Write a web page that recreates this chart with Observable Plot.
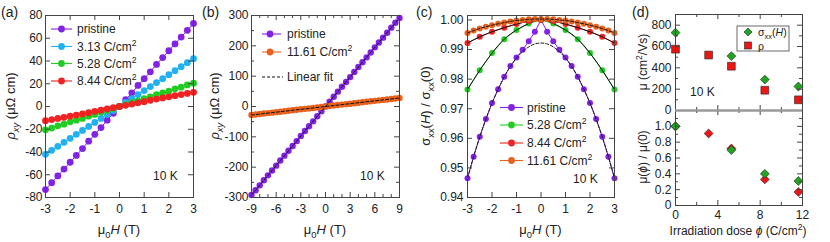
<!DOCTYPE html>
<html><head><meta charset="utf-8">
<script src="https://cdn.jsdelivr.net/npm/d3@7"></script>
<script src="https://cdn.jsdelivr.net/npm/@observablehq/plot@0.6"></script>
<style>
html,body{margin:0;padding:0;background:#fff;}
#fig{position:relative;width:830px;height:242px;overflow:hidden;}
#fig svg{position:absolute;left:0;top:0;}
</style></head><body><div id="fig"></div>
<script>
// ---------------- DATA ----------------
// Panel (a): Hall resistivity vs field
const fieldA = [-3,-2.75,-2.5,-2.25,-2,-1.75,-1.5,-1.25,-1,-0.75,-0.5,-0.25,0,0.25,0.5,0.75,1,1.25,1.5,1.75,2,2.25,2.5,2.75,3];
const rhoPristineA = [-73,-67,-61,-55,-49,-43,-37,-30.5,-24.5,-18.5,-12,-6,0,6,12,18.5,24.5,30.5,37,43,49,55,61,67,73];
const rho313A = [-42,-38.5,-35,-31.5,-28,-24.5,-21,-17.5,-14,-10.5,-7,-3.5,0,3.5,7,10.5,14,17.5,21,24.5,28,31.5,35,38.5,42];
const rho528A = [-20.5,-19,-17,-15.5,-13.5,-12,-10.5,-8.5,-7,-5,-3.5,-1.7,0,1.7,3.5,5,7,8.5,10.5,12,13.5,15.5,17,19,20.5];
const rho844A = [-12.5,-11.5,-10.5,-9.5,-8.5,-7.5,-6.5,-5.5,-4.2,-3.2,-2.1,-1,0,1,2.1,3.2,4.2,5.5,6.5,7.5,8.5,9.5,10.5,11.5,12.5];
const xTicksA = [-3,-2,-1,0,1,2,3];
const yTicksA = [-80,-60,-40,-20,0,20,40,60,80];

// Panel (b): Hall resistivity up to 9 T
const fieldB = [-9,-8.5,-8,-7.5,-7,-6.5,-6,-5.5,-5,-4.5,-4,-3.5,-3,-2.5,-2,-1.5,-1,-0.5,0,0.5,1,1.5,2,2.5,3,3.5,4,4.5,5,5.5,6,6.5,7,7.5,8,8.5,9];
const rhoPristineB = [-292,-276,-260,-243,-227,-211,-195,-178,-162,-146,-130,-114,-97,-81,-65,-49,-32,-16,0,16,32,49,65,81,97,114,130,146,162,178,195,211,227,243,260,276,292];
const rho1161B = [-28,-26.4,-24.8,-23.3,-21.7,-20.2,-18.6,-17.1,-15.5,-14,-12.4,-10.9,-9.3,-7.8,-6.2,-4.7,-3.1,-1.6,0,1.6,3.1,4.7,6.2,7.8,9.3,10.9,12.4,14,15.5,17.1,18.6,20.2,21.7,23.3,24.8,26.4,28];
const fitFieldB = [-9, 9];
const fitPristineB = [-292, 292];
const fit1161B = [-28, 28];
const xTicksB = [-9,-6,-3,0,3,6,9];
const xMinorB = [-8,-7,-5,-4,-2,-1,1,2,4,5,7,8];
const yTicksB = [-300,-200,-100,0,100,200,300];
const yMinorB = [-250,-150,-50,50,150,250];

// Panel (c): normalized conductivity
const fieldC = [-3,-2.75,-2.5,-2.25,-2,-1.75,-1.5,-1.25,-1,-0.75,-0.5,-0.25,0,0.25,0.5,0.75,1,1.25,1.5,1.75,2,2.25,2.5,2.75,3];
const sigPristineC = [0.9465,0.9538,0.9605,0.9665,0.9719,0.9766,0.9808,0.9844,0.9873,0.9899,0.9928,0.9960,1.0000,0.9960,0.9928,0.9899,0.9873,0.9844,0.9808,0.9766,0.9719,0.9665,0.9605,0.9538,0.9465];
const fitPristineC = [0.9465,0.9538,0.9605,0.9665,0.9719,0.9766,0.9808,0.9843,0.9871,0.9893,0.9909,0.9919,0.9922,0.9919,0.9909,0.9893,0.9871,0.9843,0.9808,0.9766,0.9719,0.9665,0.9605,0.9538,0.9465];
const sig1161C = [0.9956,0.9964,0.9971,0.9977,0.9982,0.9987,0.9991,0.9995,0.9998,1.0000,1.0002,1.0003,1.0003,1.0003,1.0002,1.0000,0.9998,0.9995,0.9991,0.9987,0.9982,0.9977,0.9971,0.9964,0.9956];
const fieldHalfC = [-3,-2.5,-2,-1.5,-1,-0.5,0,0.5,1,1.5,2,2.5,3];
const sig528C = [0.9765,0.9830,0.9888,0.9935,0.9966,0.9988,1.0000,0.9988,0.9966,0.9935,0.9888,0.9830,0.9765];
const sig844C = [0.9922,0.9943,0.9960,0.9974,0.9986,0.9996,1.0000,0.9996,0.9986,0.9974,0.9960,0.9943,0.9922];
const xTicksC = [-3,-2,-1,0,1,2,3];
const yTicksC = [0.94,0.95,0.96,0.97,0.98,0.99,1.00];

// Panel (d): mobility vs irradiation dose
const doseSigma = [0, 5.28, 8.44, 11.61];
const muSigma = [730, 510, 290, 225];
const doseRho = [0, 3.13, 5.28, 8.44, 11.61];
const muRho = [575, 520, 415, 190, 100];
const normSigma = [1.0, 0.70, 0.40, 0.31];
const normRho = [1.0, 0.91, 0.72, 0.33, 0.17];
const xTicksD = [0,4,8,12];
const xMinorD = [2,6,10];
const yTicksDtop = [0,200,400,600,800];
const yMinorDtop = [100,300,500,700];
const yTicksDbot = [0,0.2,0.4,0.6,0.8,1.0];
const yMinorDbot = [0.1,0.3,0.5,0.7,0.9,1.1];

// ---------------- STYLE ----------------
const W = 830, H = 242;
const FONT = "'Liberation Sans', Arial, Helvetica, sans-serif";
const C = {pristine:"#8322E6", c313:"#21B1F2", c528:"#22CC22", c844:"#F02222", c1161:"#E8621E"};
const AX = "#444";

const rows = (xs, ys) => xs.map((x, i) => ({x, y: ys[i]}));

function boxTicks(frame, xMaj, xMin, yMaj, yMin, sides = "tblr") {
  const [l, r, t, b] = frame; const fw = r - l, fh = b - t;
  const M = 5, m = 3, st = {stroke: AX, strokeWidth: 1};
  const out = [];
  const X = (arr, len, side) => arr && arr.length && out.push(Plot.ruleX(arr, {x: d => d, ...(side === "b" ? {insetTop: fh - len} : {insetBottom: fh - len}), ...st}));
  const Y = (arr, len, side) => arr && arr.length && out.push(Plot.ruleY(arr, {y: d => d, ...(side === "l" ? {insetRight: fw - len} : {insetLeft: fw - len}), ...st}));
  for (const s of sides) {
    if (s === "b" || s === "t") { X(xMaj, M, s); X(xMin, m, s); }
    else { Y(yMaj, M, s); Y(yMin, m, s); }
  }
  return out;
}

function makePlot(frame, xDomain, yDomain, marks, xAxis = true) {
  const [l, r, t, b] = frame;
  const svg = Plot.plot({
    width: W, height: H,
    marginLeft: l, marginRight: W - r, marginTop: t, marginBottom: H - b,
    x: {domain: xDomain, axis: null}, y: {domain: yDomain, axis: null},
    style: {background: "transparent", fontFamily: FONT, fontSize: "12px", color: "#222", overflow: "visible"},
    marks
  });
  document.getElementById("fig").appendChild(svg);
  return svg;
}

function rich(svg, x, y, parts, {size = 12, rotate = 0, anchor = "start"} = {}) {
  const t = d3.select(svg).append("text")
    .attr("transform", `translate(${x},${y})` + (rotate ? ` rotate(${rotate})` : ""))
    .attr("text-anchor", anchor).attr("font-size", size).attr("fill", "#222").attr("font-family", FONT);
  let shift = 0;
  for (const p of parts) {
    const s = typeof p === "string" ? {t: p} : p;
    const ts = t.append("tspan").text(s.t);
    const target = s.sub ? size * 0.3 : s.sup ? -size * 0.42 : 0;
    if (target !== shift) { ts.attr("dy", target - shift); shift = target; }
    if (s.sub || s.sup) ts.attr("font-size", size * 0.72);
    if (s.i) ts.attr("font-style", "italic");
  }
  return t;
}

function legendRow(svg, {x0, x1, cx, tx, y, color, r = 3.4, dash = null, marker = true, parts, size = 12}) {
  const g = d3.select(svg);
  g.append("line").attr("x1", x0).attr("x2", x1).attr("y1", y).attr("y2", y)
    .attr("stroke", color).attr("stroke-width", 1.1).attr("stroke-dasharray", dash);
  if (marker) g.append("circle").attr("cx", cx).attr("cy", y).attr("r", r).attr("fill", color);
  rich(svg, tx, y + 4.3, parts, {size});
}

const fmt = d => String(d);
const xAxisText = (ticks, pad = 7, f = fmt) => Plot.axisX({ticks, tickSize: 0, tickPadding: pad, tickFormat: f, label: null, fontSize: 12});
const yAxisText = (ticks, pad = 3, f = fmt) => Plot.axisY({ticks, tickSize: 0, tickPadding: pad, tickFormat: f, label: null, fontSize: 12});
const muH = [{t:"μ"},{t:"0", sub:true},{t:"H", i:true},{t:" (T)"}];
const cm2 = n => [{t: n + " C/cm"}, {t:"2", sup:true}];

// ---------------- PANEL (a) ----------------
{
  const F = [45, 193, 15, 197];
  const series = [[rhoPristineA, C.pristine], [rho313A, C.c313], [rho528A, C.c528], [rho844A, C.c844]];
  const marks = [];
  for (const [ys, c] of series) {
    marks.push(Plot.line(rows(fieldA, ys), {x: "x", y: "y", stroke: c, strokeWidth: 1}));
    marks.push(Plot.dot(rows(fieldA, ys), {x: "x", y: "y", fill: c, r: 3.4}));
  }
  marks.push(Plot.frame({stroke: AX, strokeWidth: 1}));
  marks.push(...boxTicks(F, xTicksA, [], yTicksA, []));
  marks.push(xAxisText(xTicksA), yAxisText(yTicksA));
  const svg = makePlot(F, [-3, 3], [-80, 80], marks);
  rich(svg, 1, 17, ["(a)"], {size: 14});
  rich(svg, 119, 234, muH, {size: 13, anchor: "middle"});
  rich(svg, 15, 106, [{t:"ρ", i:true},{t:"xy", sub:true, i:true},{t:" (μΩ cm)"}], {size: 13, anchor: "middle", rotate: -90});
  rich(svg, 153, 180, ["10 K"]);
  const leg = [["pristine", C.pristine], ["3.13", C.c313], ["5.28", C.c528], ["8.44", C.c844]];
  const ys = [29, 46.5, 63.5, 81];
  leg.forEach(([n, c], i) => legendRow(svg, {x0: 51, x1: 72, cx: 61.5, tx: 77, y: ys[i], color: c,
    parts: n === "pristine" ? ["pristine"] : cm2(n)}));
}

// ---------------- PANEL (b) ----------------
{
  const F = [251, 399, 15, 197];
  const marks = [
    Plot.line(rows(fieldB, rhoPristineB), {x: "x", y: "y", stroke: C.pristine, strokeWidth: 1}),
    Plot.dot(rows(fieldB, rhoPristineB), {x: "x", y: "y", fill: C.pristine, r: 3.2}),
    Plot.line(rows(fieldB, rho1161B), {x: "x", y: "y", stroke: C.c1161, strokeWidth: 1}),
    Plot.dot(rows(fieldB, rho1161B), {x: "x", y: "y", fill: C.c1161, r: 3.2}),
    Plot.line(rows(fitFieldB, fitPristineB), {x: "x", y: "y", stroke: "#111", strokeWidth: 1, strokeDasharray: "3,2"}),
    Plot.line(rows(fitFieldB, fit1161B), {x: "x", y: "y", stroke: "#111", strokeWidth: 1, strokeDasharray: "3,2"}),
    Plot.frame({stroke: AX, strokeWidth: 1}),
    ...boxTicks(F, xTicksB, xMinorB, yTicksB, yMinorB),
    xAxisText(xTicksB), yAxisText(yTicksB)
  ];
  const svg = makePlot(F, [-9, 9], [-300, 300], marks);
  rich(svg, 202, 17, ["(b)"], {size: 14});
  rich(svg, 325, 234, muH, {size: 13, anchor: "middle"});
  rich(svg, 219, 106, [{t:"ρ", i:true},{t:"xy", sub:true, i:true},{t:" (μΩ cm)"}], {size: 13, anchor: "middle", rotate: -90});
  rich(svg, 360, 180, ["10 K"]);
  legendRow(svg, {x0: 262, x1: 281, cx: 270, tx: 287, y: 34, color: C.pristine, parts: ["pristine"]});
  legendRow(svg, {x0: 262, x1: 281, cx: 270, tx: 287, y: 52, color: C.c1161, parts: cm2("11.61")});
  legendRow(svg, {x0: 262, x1: 283, cx: 270, tx: 287, y: 77, color: "#111", dash: "3,2", marker: false, parts: ["Linear fit"]});
}

// ---------------- PANEL (c) ----------------
{
  const F = [467, 614, 15, 197];
  const marks = [
    Plot.line(rows(fieldC, sigPristineC), {x: "x", y: "y", stroke: C.pristine, strokeWidth: 1}),
    Plot.dot(rows(fieldC, sigPristineC), {x: "x", y: "y", fill: C.pristine, r: 3}),
    Plot.line(rows(fieldC, fitPristineC), {x: "x", y: "y", stroke: "#111", strokeWidth: 1, strokeDasharray: "3,2", curve: "natural"}),
    Plot.line(rows(fieldHalfC, sig528C), {x: "x", y: "y", stroke: C.c528, strokeWidth: 1}),
    Plot.dot(rows(fieldHalfC, sig528C), {x: "x", y: "y", fill: C.c528, r: 3}),
    Plot.line(rows(fieldHalfC, sig528C), {x: "x", y: "y", stroke: "#111", strokeWidth: 1, curve: "natural"}),
    Plot.line(rows(fieldHalfC, sig844C), {x: "x", y: "y", stroke: C.c844, strokeWidth: 1}),
    Plot.dot(rows(fieldHalfC, sig844C), {x: "x", y: "y", fill: C.c844, r: 3}),
    Plot.line(rows(fieldHalfC, sig844C), {x: "x", y: "y", stroke: "#111", strokeWidth: 1, curve: "natural"}),
    Plot.line(rows(fieldC, sig1161C), {x: "x", y: "y", stroke: C.c1161, strokeWidth: 1}),
    Plot.dot(rows(fieldC, sig1161C), {x: "x", y: "y", fill: C.c1161, r: 3}),
    Plot.line(rows(fieldC, sig1161C), {x: "x", y: "y", stroke: "#111", strokeWidth: 1, strokeDasharray: "3,2", curve: "natural"}),
    Plot.frame({stroke: AX, strokeWidth: 1}),
    ...boxTicks(F, xTicksC, [], yTicksC, []),
    xAxisText(xTicksC), yAxisText(yTicksC, 4, d3.format(".2f"))
  ];
  const svg = makePlot(F, [-3, 3], [0.94, 1.0015], marks);
  rich(svg, 416, 17, ["(c)"], {size: 14});
  rich(svg, 540.5, 234, muH, {size: 13, anchor: "middle"});
  rich(svg, 430, 106, [{t:"σ"},{t:"xx", sub:true},{t:"("},{t:"H", i:true},{t:") / σ"},{t:"xx", sub:true},{t:"(0)"}], {size: 13, anchor: "middle", rotate: -90});
  rich(svg, 573, 183, ["10 K"]);
  const leg = [["pristine", C.pristine], ["5.28", C.c528], ["8.44", C.c844], ["11.61", C.c1161]];
  const ys = [107.5, 125, 143, 160.5];
  leg.forEach(([n, c], i) => legendRow(svg, {x0: 500, x1: 523, cx: 511.5, tx: 527, y: ys[i], color: c,
    parts: n === "pristine" ? ["pristine"] : cm2(n)}));
}

// ---------------- PANEL (d) ----------------
{
  const Ft = [675, 802, 14, 110];
  const Fb = [675, 802, 110, 205];
  const dia = {symbol: "diamond2", r: 4, fill: "#1FA51F", stroke: "#222", strokeWidth: 0.6};
  const sq = {symbol: "square", r: 4.4, fill: "#EE1515", stroke: "#222", strokeWidth: 0.6};
  const top = [
    Plot.dot(rows(doseRho, muRho), {x: "x", y: "y", ...sq}),
    Plot.dot(rows(doseSigma, muSigma), {x: "x", y: "y", ...dia}),
    Plot.frame({stroke: AX, strokeWidth: 1}),
    ...boxTicks(Ft, xTicksD, xMinorD, yTicksDtop, yMinorDtop),
    yAxisText(yTicksDtop, 4),
    Plot.ruleY([0], {stroke: "#999", strokeWidth: 2})
  ];
  const svgT = makePlot(Ft, [0, 12], [0, 900], top);
  const bot = [
    Plot.dot(rows(doseRho, normRho), {x: "x", y: "y", ...dia, fill: "#EE1515"}),
    Plot.dot(rows(doseSigma, normSigma), {x: "x", y: "y", ...dia}),
    Plot.frame({stroke: AX, strokeWidth: 1}),
    ...boxTicks(Fb, xTicksD, xMinorD, yTicksDbot, yMinorDbot),
    xAxisText(xTicksD, 5), yAxisText(yTicksDbot, 4, d => d === 0 ? "0" : d.toFixed(1)),
    Plot.ruleY([1.2], {stroke: "#999", strokeWidth: 2})
  ];
  const svgB = makePlot(Fb, [0, 12], [0, 1.2], bot);
  rich(svgT, 632, 17, ["(d)"], {size: 14});
  rich(svgT, 647, 62, [{t:"μ (cm"},{t:"2", sup:true},{t:"/Vs)"}], {size: 12, anchor: "middle", rotate: -90});
  rich(svgB, 647, 157, [{t:"μ("},{t:"ϕ", i:true},{t:") / μ(0)"}], {size: 12, anchor: "middle", rotate: -90});
  rich(svgB, 738, 235, [{t:"Irradiation dose "},{t:"ϕ", i:true},{t:" (C/cm"},{t:"2", sup:true},{t:")"}], {size: 12, anchor: "middle"});
  rich(svgT, 690, 96, ["10 K"]);
  // legend box
  const g = d3.select(svgT);
  g.append("rect").attr("x", 737).attr("y", 26).attr("width", 52).attr("height", 25)
    .attr("fill", "#fff").attr("stroke", AX).attr("stroke-width", 0.8);
  g.append("path").attr("d", "M748,28L752,32L748,36L744,32Z").attr("fill", "#1FA51F").attr("stroke", "#222").attr("stroke-width", 0.6);
  g.append("rect").attr("x", 744.5).attr("y", 42).attr("width", 7).attr("height", 7).attr("fill", "#EE1515").attr("stroke", "#222").attr("stroke-width", 0.6);
  rich(svgT, 758, 36, [{t:"σ"},{t:"xx", sub:true},{t:"("},{t:"H", i:true},{t:")"}], {size: 10.5});
  rich(svgT, 758, 49.5, ["ρ"], {size: 10.5});
}
</script></body></html>
